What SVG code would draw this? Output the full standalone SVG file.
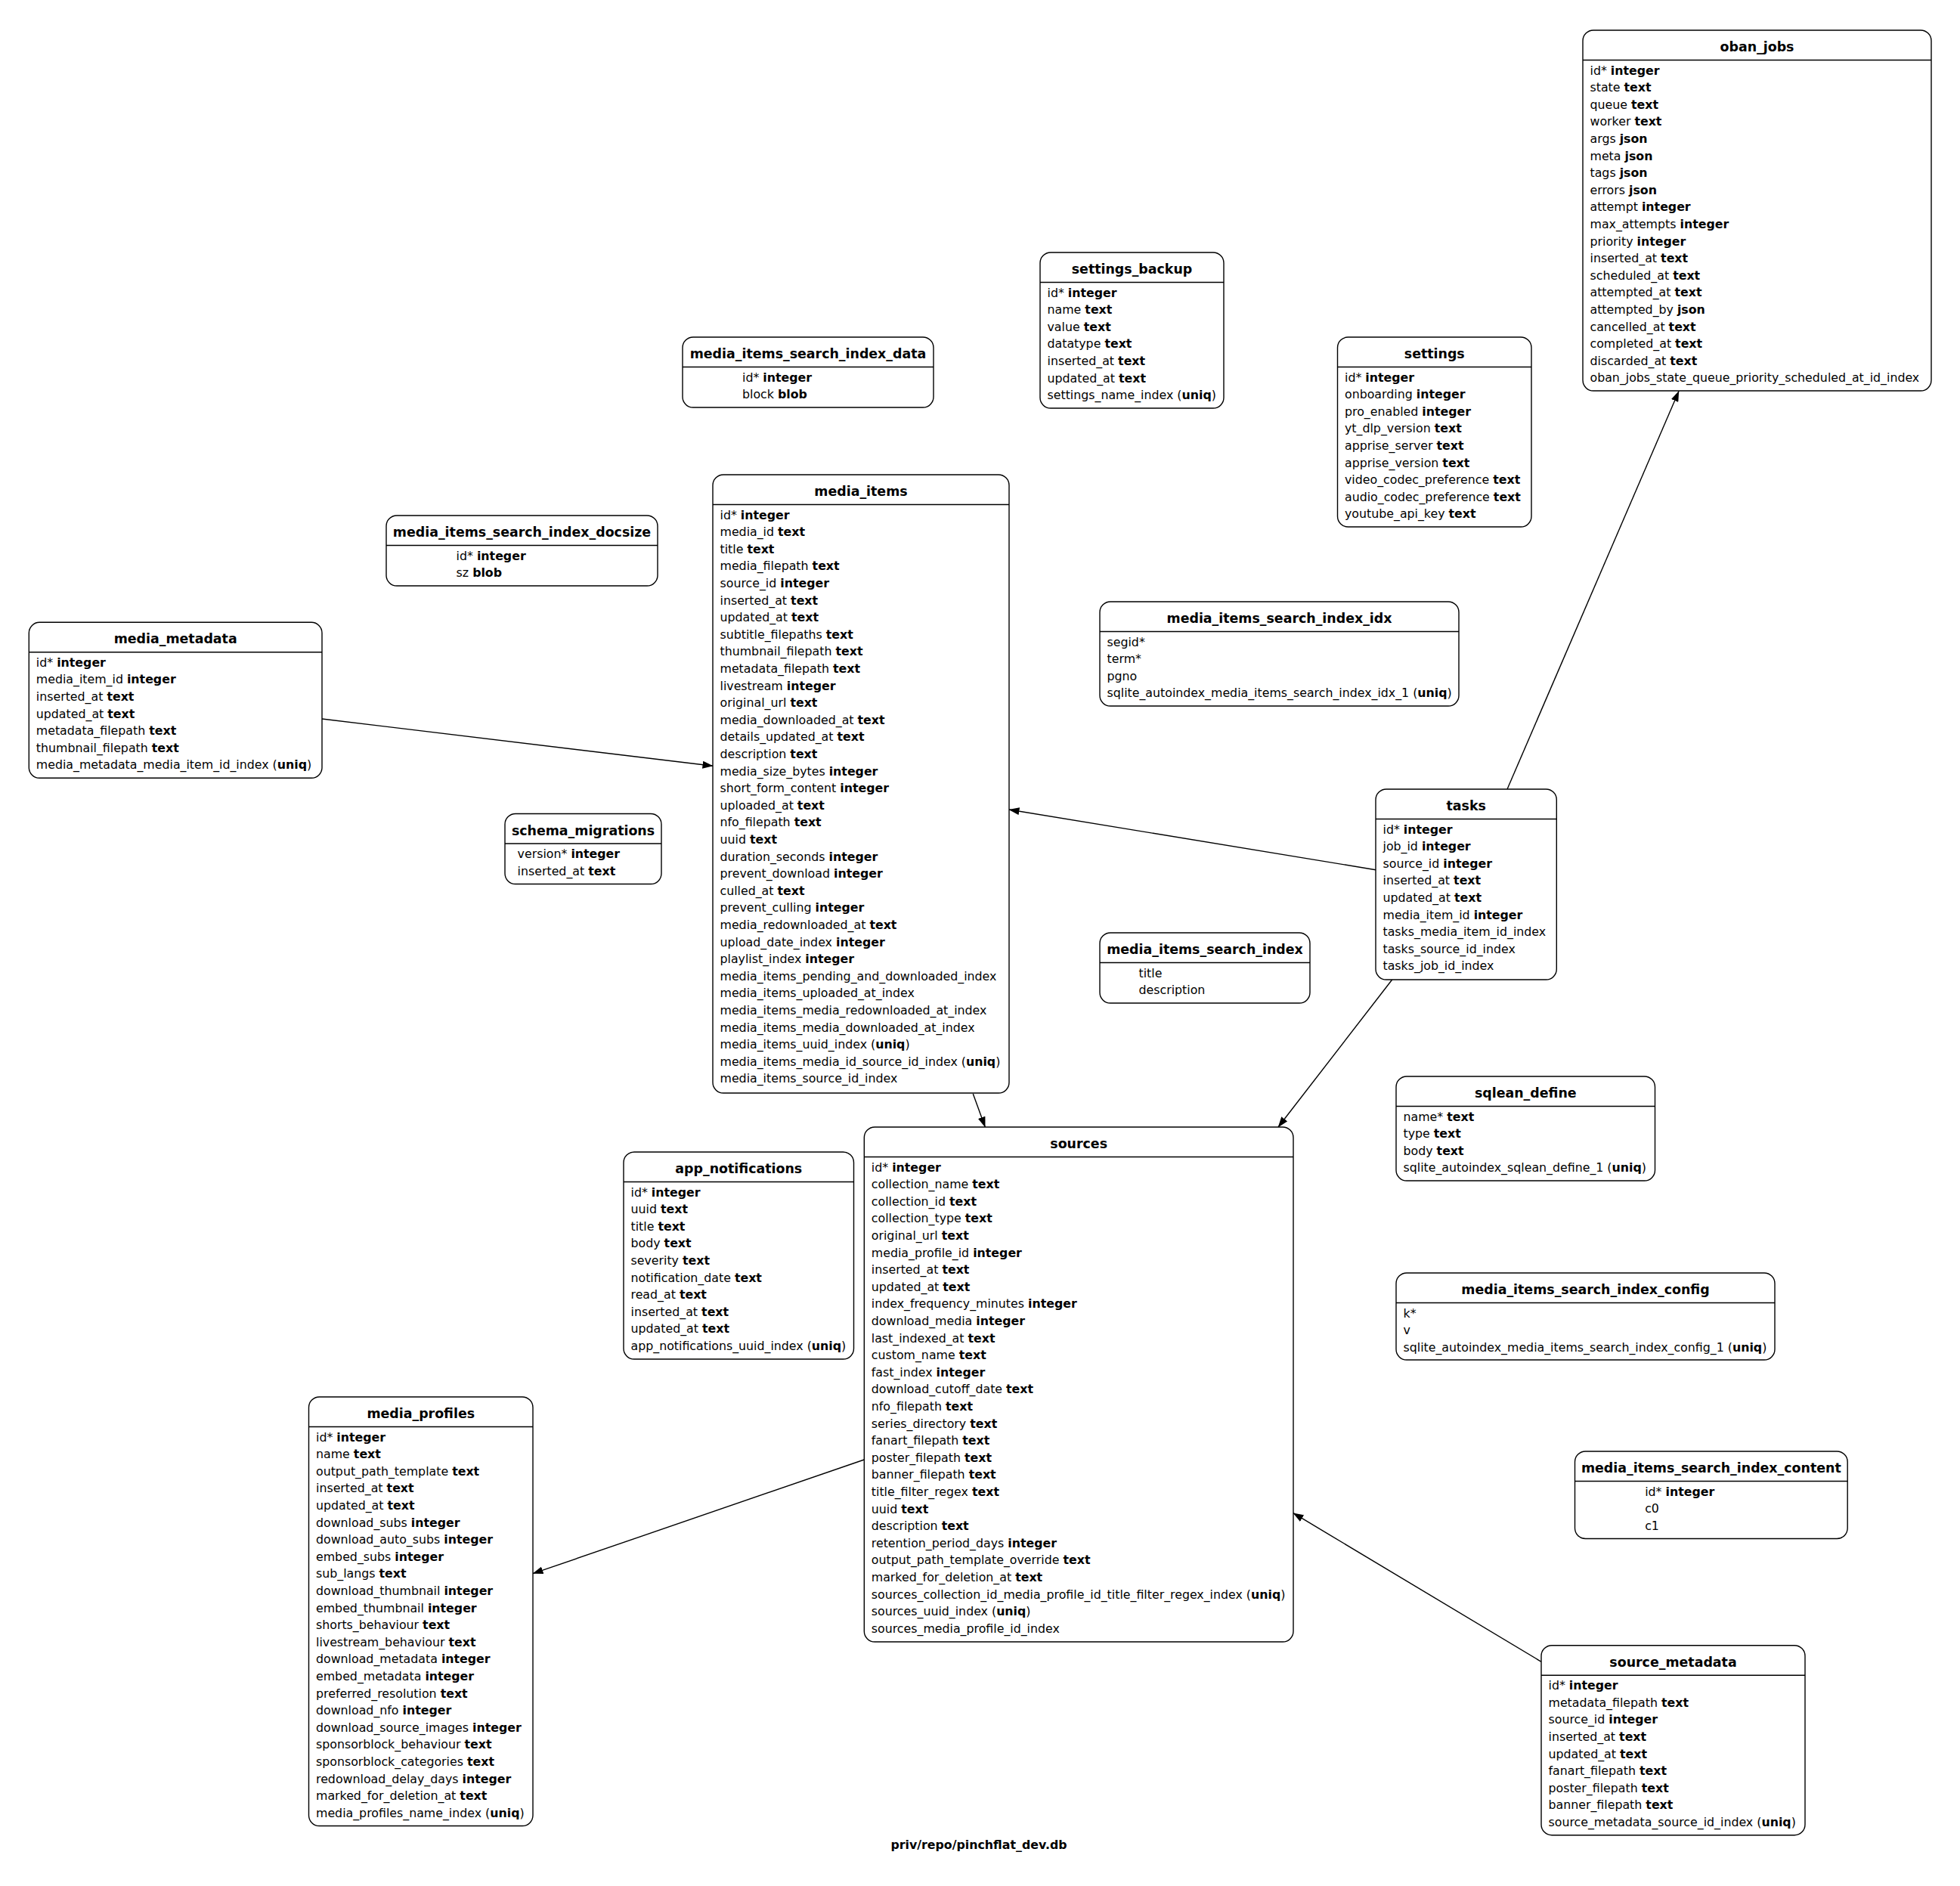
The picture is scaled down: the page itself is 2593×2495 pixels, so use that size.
<svg xmlns="http://www.w3.org/2000/svg" width="2593" height="2495" viewBox="0 0 2593 2495">
<style>
.box{fill:#fff;stroke:#000;stroke-width:1.4}
.sep{stroke:#000;stroke-width:1.4}
text{font-family:"DejaVu Sans","Liberation Sans",sans-serif;font-size:15.8px;fill:#000}
.hd{font-weight:bold;text-anchor:middle;font-size:17.4px}
.ttl{font-weight:bold;text-anchor:middle}
.b{font-weight:bold}
.edge{stroke:#000;stroke-width:1.4;fill:none;marker-end:url(#arr)}
</style>
<defs>
<marker id="arr" markerUnits="userSpaceOnUse" markerWidth="14" markerHeight="10" refX="13.5" refY="5" orient="auto"><path d="M0,0 L14,5 L0,10 Z" fill="#000"/></marker>
</defs>
<rect width="2593" height="2495" fill="#fff"/>

<g id="connectors">
<path class="edge" d="M426,951 L943,1013.3"/>
<path class="edge" d="M1820,1150.7 L1335,1071"/>
<path class="edge" d="M1994,1044 L2221,517.5"/>
<path class="edge" d="M1841.7,1296 L1691,1491"/>
<path class="edge" d="M1287.3,1447 L1303.3,1491"/>
<path class="edge" d="M1143.3,1931 L705,2081.7"/>
<path class="edge" d="M2039,2198.3 L1711,2001.7"/>
</g>

<g id="oban_jobs" transform="translate(2094,40)">
<rect class="box" width="461" height="477" rx="14"/><line class="sep" x1="0" y1="39.5" x2="461" y2="39.5"/>
<text class="hd" x="230.5" y="28">oban_jobs</text>
<text x="9.5" y="58.5">id* <tspan class="b">integer</tspan></text>
<text x="9.5" y="81.1">state <tspan class="b">text</tspan></text>
<text x="9.5" y="103.7">queue <tspan class="b">text</tspan></text>
<text x="9.5" y="126.3">worker <tspan class="b">text</tspan></text>
<text x="9.5" y="148.9">args <tspan class="b">json</tspan></text>
<text x="9.5" y="171.5">meta <tspan class="b">json</tspan></text>
<text x="9.5" y="194.1">tags <tspan class="b">json</tspan></text>
<text x="9.5" y="216.7">errors <tspan class="b">json</tspan></text>
<text x="9.5" y="239.3">attempt <tspan class="b">integer</tspan></text>
<text x="9.5" y="261.9">max_attempts <tspan class="b">integer</tspan></text>
<text x="9.5" y="284.5">priority <tspan class="b">integer</tspan></text>
<text x="9.5" y="307.1">inserted_at <tspan class="b">text</tspan></text>
<text x="9.5" y="329.7">scheduled_at <tspan class="b">text</tspan></text>
<text x="9.5" y="352.3">attempted_at <tspan class="b">text</tspan></text>
<text x="9.5" y="374.9">attempted_by <tspan class="b">json</tspan></text>
<text x="9.5" y="397.5">cancelled_at <tspan class="b">text</tspan></text>
<text x="9.5" y="420.1">completed_at <tspan class="b">text</tspan></text>
<text x="9.5" y="442.7">discarded_at <tspan class="b">text</tspan></text>
<text x="9.5" y="465.3">oban_jobs_state_queue_priority_scheduled_at_id_index</text>
</g>

<g id="settings_backup" transform="translate(1376,334)">
<rect class="box" width="243" height="206" rx="14"/><line class="sep" x1="0" y1="39.5" x2="243" y2="39.5"/>
<text class="hd" x="121.5" y="28">settings_backup</text>
<text x="9.5" y="58.5">id* <tspan class="b">integer</tspan></text>
<text x="9.5" y="81.1">name <tspan class="b">text</tspan></text>
<text x="9.5" y="103.7">value <tspan class="b">text</tspan></text>
<text x="9.5" y="126.3">datatype <tspan class="b">text</tspan></text>
<text x="9.5" y="148.9">inserted_at <tspan class="b">text</tspan></text>
<text x="9.5" y="171.5">updated_at <tspan class="b">text</tspan></text>
<text x="9.5" y="194.1">settings_name_index (<tspan class="b">uniq</tspan>)</text>
</g>

<g id="media_items_search_index_data" transform="translate(903,446)">
<rect class="box" width="332" height="93" rx="14"/><line class="sep" x1="0" y1="39.5" x2="332" y2="39.5"/>
<text class="hd" x="166" y="28">media_items_search_index_data</text>
<text x="79" y="58.5">id* <tspan class="b">integer</tspan></text>
<text x="79" y="81.1">block <tspan class="b">blob</tspan></text>
</g>

<g id="settings" transform="translate(1769.5,446)">
<rect class="box" width="256.5" height="251" rx="14"/><line class="sep" x1="0" y1="39.5" x2="256.5" y2="39.5"/>
<text class="hd" x="128.25" y="28">settings</text>
<text x="9.5" y="58.5">id* <tspan class="b">integer</tspan></text>
<text x="9.5" y="81.1">onboarding <tspan class="b">integer</tspan></text>
<text x="9.5" y="103.7">pro_enabled <tspan class="b">integer</tspan></text>
<text x="9.5" y="126.3">yt_dlp_version <tspan class="b">text</tspan></text>
<text x="9.5" y="148.9">apprise_server <tspan class="b">text</tspan></text>
<text x="9.5" y="171.5">apprise_version <tspan class="b">text</tspan></text>
<text x="9.5" y="194.1">video_codec_preference <tspan class="b">text</tspan></text>
<text x="9.5" y="216.7">audio_codec_preference <tspan class="b">text</tspan></text>
<text x="9.5" y="239.3">youtube_api_key <tspan class="b">text</tspan></text>
</g>

<g id="media_items" transform="translate(943,628)">
<rect class="box" width="392" height="818" rx="14"/><line class="sep" x1="0" y1="39.5" x2="392" y2="39.5"/>
<text class="hd" x="196" y="28">media_items</text>
<text x="9.5" y="58.5">id* <tspan class="b">integer</tspan></text>
<text x="9.5" y="81.1">media_id <tspan class="b">text</tspan></text>
<text x="9.5" y="103.7">title <tspan class="b">text</tspan></text>
<text x="9.5" y="126.3">media_filepath <tspan class="b">text</tspan></text>
<text x="9.5" y="148.9">source_id <tspan class="b">integer</tspan></text>
<text x="9.5" y="171.5">inserted_at <tspan class="b">text</tspan></text>
<text x="9.5" y="194.1">updated_at <tspan class="b">text</tspan></text>
<text x="9.5" y="216.7">subtitle_filepaths <tspan class="b">text</tspan></text>
<text x="9.5" y="239.3">thumbnail_filepath <tspan class="b">text</tspan></text>
<text x="9.5" y="261.9">metadata_filepath <tspan class="b">text</tspan></text>
<text x="9.5" y="284.5">livestream <tspan class="b">integer</tspan></text>
<text x="9.5" y="307.1">original_url <tspan class="b">text</tspan></text>
<text x="9.5" y="329.7">media_downloaded_at <tspan class="b">text</tspan></text>
<text x="9.5" y="352.3">details_updated_at <tspan class="b">text</tspan></text>
<text x="9.5" y="374.9">description <tspan class="b">text</tspan></text>
<text x="9.5" y="397.5">media_size_bytes <tspan class="b">integer</tspan></text>
<text x="9.5" y="420.1">short_form_content <tspan class="b">integer</tspan></text>
<text x="9.5" y="442.7">uploaded_at <tspan class="b">text</tspan></text>
<text x="9.5" y="465.3">nfo_filepath <tspan class="b">text</tspan></text>
<text x="9.5" y="487.9">uuid <tspan class="b">text</tspan></text>
<text x="9.5" y="510.5">duration_seconds <tspan class="b">integer</tspan></text>
<text x="9.5" y="533.1">prevent_download <tspan class="b">integer</tspan></text>
<text x="9.5" y="555.7">culled_at <tspan class="b">text</tspan></text>
<text x="9.5" y="578.3">prevent_culling <tspan class="b">integer</tspan></text>
<text x="9.5" y="600.9">media_redownloaded_at <tspan class="b">text</tspan></text>
<text x="9.5" y="623.5">upload_date_index <tspan class="b">integer</tspan></text>
<text x="9.5" y="646.1">playlist_index <tspan class="b">integer</tspan></text>
<text x="9.5" y="668.7">media_items_pending_and_downloaded_index</text>
<text x="9.5" y="691.3">media_items_uploaded_at_index</text>
<text x="9.5" y="713.9">media_items_media_redownloaded_at_index</text>
<text x="9.5" y="736.5">media_items_media_downloaded_at_index</text>
<text x="9.5" y="759.1">media_items_uuid_index (<tspan class="b">uniq</tspan>)</text>
<text x="9.5" y="781.7">media_items_media_id_source_id_index (<tspan class="b">uniq</tspan>)</text>
<text x="9.5" y="804.3">media_items_source_id_index</text>
</g>

<g id="media_items_search_index_docsize" transform="translate(511,682)">
<rect class="box" width="359" height="93" rx="14"/><line class="sep" x1="0" y1="39.5" x2="359" y2="39.5"/>
<text class="hd" x="179.5" y="28">media_items_search_index_docsize</text>
<text x="92.6" y="58.5">id* <tspan class="b">integer</tspan></text>
<text x="92.6" y="81.1">sz <tspan class="b">blob</tspan></text>
</g>

<g id="media_metadata" transform="translate(38.3,823.3)">
<rect class="box" width="387.7" height="206" rx="14"/><line class="sep" x1="0" y1="39.5" x2="387.7" y2="39.5"/>
<text class="hd" x="193.85" y="28">media_metadata</text>
<text x="9.5" y="58.5">id* <tspan class="b">integer</tspan></text>
<text x="9.5" y="81.1">media_item_id <tspan class="b">integer</tspan></text>
<text x="9.5" y="103.7">inserted_at <tspan class="b">text</tspan></text>
<text x="9.5" y="126.3">updated_at <tspan class="b">text</tspan></text>
<text x="9.5" y="148.9">metadata_filepath <tspan class="b">text</tspan></text>
<text x="9.5" y="171.5">thumbnail_filepath <tspan class="b">text</tspan></text>
<text x="9.5" y="194.1">media_metadata_media_item_id_index (<tspan class="b">uniq</tspan>)</text>
</g>

<g id="media_items_search_index_idx" transform="translate(1455,796)">
<rect class="box" width="475" height="138" rx="14"/><line class="sep" x1="0" y1="39.5" x2="475" y2="39.5"/>
<text class="hd" x="237.5" y="28">media_items_search_index_idx</text>
<text x="9.5" y="58.5">segid*</text>
<text x="9.5" y="81.1">term*</text>
<text x="9.5" y="103.7">pgno</text>
<text x="9.5" y="126.3">sqlite_autoindex_media_items_search_index_idx_1 (<tspan class="b">uniq</tspan>)</text>
</g>

<g id="schema_migrations" transform="translate(668,1076.5)">
<rect class="box" width="207" height="93" rx="14"/><line class="sep" x1="0" y1="39.5" x2="207" y2="39.5"/>
<text class="hd" x="103.5" y="28">schema_migrations</text>
<text x="16.6" y="58.5">version* <tspan class="b">integer</tspan></text>
<text x="16.6" y="81.1">inserted_at <tspan class="b">text</tspan></text>
</g>

<g id="tasks" transform="translate(1820,1044)">
<rect class="box" width="239.3" height="252" rx="14"/><line class="sep" x1="0" y1="39.5" x2="239.3" y2="39.5"/>
<text class="hd" x="119.65" y="28">tasks</text>
<text x="9.5" y="58.5">id* <tspan class="b">integer</tspan></text>
<text x="9.5" y="81.1">job_id <tspan class="b">integer</tspan></text>
<text x="9.5" y="103.7">source_id <tspan class="b">integer</tspan></text>
<text x="9.5" y="126.3">inserted_at <tspan class="b">text</tspan></text>
<text x="9.5" y="148.9">updated_at <tspan class="b">text</tspan></text>
<text x="9.5" y="171.5">media_item_id <tspan class="b">integer</tspan></text>
<text x="9.5" y="194.1">tasks_media_item_id_index</text>
<text x="9.5" y="216.7">tasks_source_id_index</text>
<text x="9.5" y="239.3">tasks_job_id_index</text>
</g>

<g id="media_items_search_index" transform="translate(1455,1234)">
<rect class="box" width="278" height="93" rx="14"/><line class="sep" x1="0" y1="39.5" x2="278" y2="39.5"/>
<text class="hd" x="139" y="28">media_items_search_index</text>
<text x="51.5" y="58.5">title</text>
<text x="51.5" y="81.1">description</text>
</g>

<g id="sqlean_define" transform="translate(1847,1424)">
<rect class="box" width="342.5" height="138" rx="14"/><line class="sep" x1="0" y1="39.5" x2="342.5" y2="39.5"/>
<text class="hd" x="171.25" y="28">sqlean_define</text>
<text x="9.5" y="58.5">name* <tspan class="b">text</tspan></text>
<text x="9.5" y="81.1">type <tspan class="b">text</tspan></text>
<text x="9.5" y="103.7">body <tspan class="b">text</tspan></text>
<text x="9.5" y="126.3">sqlite_autoindex_sqlean_define_1 (<tspan class="b">uniq</tspan>)</text>
</g>

<g id="app_notifications" transform="translate(825,1524)">
<rect class="box" width="304.5" height="274" rx="14"/><line class="sep" x1="0" y1="39.5" x2="304.5" y2="39.5"/>
<text class="hd" x="152.25" y="28">app_notifications</text>
<text x="9.5" y="58.5">id* <tspan class="b">integer</tspan></text>
<text x="9.5" y="81.1">uuid <tspan class="b">text</tspan></text>
<text x="9.5" y="103.7">title <tspan class="b">text</tspan></text>
<text x="9.5" y="126.3">body <tspan class="b">text</tspan></text>
<text x="9.5" y="148.9">severity <tspan class="b">text</tspan></text>
<text x="9.5" y="171.5">notification_date <tspan class="b">text</tspan></text>
<text x="9.5" y="194.1">read_at <tspan class="b">text</tspan></text>
<text x="9.5" y="216.7">inserted_at <tspan class="b">text</tspan></text>
<text x="9.5" y="239.3">updated_at <tspan class="b">text</tspan></text>
<text x="9.5" y="261.9">app_notifications_uuid_index (<tspan class="b">uniq</tspan>)</text>
</g>

<g id="sources" transform="translate(1143.3,1491)">
<rect class="box" width="567.7" height="681" rx="14"/><line class="sep" x1="0" y1="39.5" x2="567.7" y2="39.5"/>
<text class="hd" x="283.85" y="28">sources</text>
<text x="9.5" y="58.5">id* <tspan class="b">integer</tspan></text>
<text x="9.5" y="81.1">collection_name <tspan class="b">text</tspan></text>
<text x="9.5" y="103.7">collection_id <tspan class="b">text</tspan></text>
<text x="9.5" y="126.3">collection_type <tspan class="b">text</tspan></text>
<text x="9.5" y="148.9">original_url <tspan class="b">text</tspan></text>
<text x="9.5" y="171.5">media_profile_id <tspan class="b">integer</tspan></text>
<text x="9.5" y="194.1">inserted_at <tspan class="b">text</tspan></text>
<text x="9.5" y="216.7">updated_at <tspan class="b">text</tspan></text>
<text x="9.5" y="239.3">index_frequency_minutes <tspan class="b">integer</tspan></text>
<text x="9.5" y="261.9">download_media <tspan class="b">integer</tspan></text>
<text x="9.5" y="284.5">last_indexed_at <tspan class="b">text</tspan></text>
<text x="9.5" y="307.1">custom_name <tspan class="b">text</tspan></text>
<text x="9.5" y="329.7">fast_index <tspan class="b">integer</tspan></text>
<text x="9.5" y="352.3">download_cutoff_date <tspan class="b">text</tspan></text>
<text x="9.5" y="374.9">nfo_filepath <tspan class="b">text</tspan></text>
<text x="9.5" y="397.5">series_directory <tspan class="b">text</tspan></text>
<text x="9.5" y="420.1">fanart_filepath <tspan class="b">text</tspan></text>
<text x="9.5" y="442.7">poster_filepath <tspan class="b">text</tspan></text>
<text x="9.5" y="465.3">banner_filepath <tspan class="b">text</tspan></text>
<text x="9.5" y="487.9">title_filter_regex <tspan class="b">text</tspan></text>
<text x="9.5" y="510.5">uuid <tspan class="b">text</tspan></text>
<text x="9.5" y="533.1">description <tspan class="b">text</tspan></text>
<text x="9.5" y="555.7">retention_period_days <tspan class="b">integer</tspan></text>
<text x="9.5" y="578.3">output_path_template_override <tspan class="b">text</tspan></text>
<text x="9.5" y="600.9">marked_for_deletion_at <tspan class="b">text</tspan></text>
<text x="9.5" y="623.5">sources_collection_id_media_profile_id_title_filter_regex_index (<tspan class="b">uniq</tspan>)</text>
<text x="9.5" y="646.1">sources_uuid_index (<tspan class="b">uniq</tspan>)</text>
<text x="9.5" y="668.7">sources_media_profile_id_index</text>
</g>

<g id="media_items_search_index_config" transform="translate(1847,1684)">
<rect class="box" width="501" height="115" rx="14"/><line class="sep" x1="0" y1="39.5" x2="501" y2="39.5"/>
<text class="hd" x="250.5" y="28">media_items_search_index_config</text>
<text x="9.5" y="58.5">k*</text>
<text x="9.5" y="81.1">v</text>
<text x="9.5" y="103.7">sqlite_autoindex_media_items_search_index_config_1 (<tspan class="b">uniq</tspan>)</text>
</g>

<g id="media_items_search_index_content" transform="translate(2083.5,1920)">
<rect class="box" width="360.7" height="115.5" rx="14"/><line class="sep" x1="0" y1="39.5" x2="360.7" y2="39.5"/>
<text class="hd" x="180.35" y="28">media_items_search_index_content</text>
<text x="92.7" y="58.5">id* <tspan class="b">integer</tspan></text>
<text x="92.7" y="81.1">c0</text>
<text x="92.7" y="103.7">c1</text>
</g>

<g id="media_profiles" transform="translate(408.5,1848)">
<rect class="box" width="296.5" height="567.5" rx="14"/><line class="sep" x1="0" y1="39.5" x2="296.5" y2="39.5"/>
<text class="hd" x="148.25" y="28">media_profiles</text>
<text x="9.5" y="58.5">id* <tspan class="b">integer</tspan></text>
<text x="9.5" y="81.1">name <tspan class="b">text</tspan></text>
<text x="9.5" y="103.7">output_path_template <tspan class="b">text</tspan></text>
<text x="9.5" y="126.3">inserted_at <tspan class="b">text</tspan></text>
<text x="9.5" y="148.9">updated_at <tspan class="b">text</tspan></text>
<text x="9.5" y="171.5">download_subs <tspan class="b">integer</tspan></text>
<text x="9.5" y="194.1">download_auto_subs <tspan class="b">integer</tspan></text>
<text x="9.5" y="216.7">embed_subs <tspan class="b">integer</tspan></text>
<text x="9.5" y="239.3">sub_langs <tspan class="b">text</tspan></text>
<text x="9.5" y="261.9">download_thumbnail <tspan class="b">integer</tspan></text>
<text x="9.5" y="284.5">embed_thumbnail <tspan class="b">integer</tspan></text>
<text x="9.5" y="307.1">shorts_behaviour <tspan class="b">text</tspan></text>
<text x="9.5" y="329.7">livestream_behaviour <tspan class="b">text</tspan></text>
<text x="9.5" y="352.3">download_metadata <tspan class="b">integer</tspan></text>
<text x="9.5" y="374.9">embed_metadata <tspan class="b">integer</tspan></text>
<text x="9.5" y="397.5">preferred_resolution <tspan class="b">text</tspan></text>
<text x="9.5" y="420.1">download_nfo <tspan class="b">integer</tspan></text>
<text x="9.5" y="442.7">download_source_images <tspan class="b">integer</tspan></text>
<text x="9.5" y="465.3">sponsorblock_behaviour <tspan class="b">text</tspan></text>
<text x="9.5" y="487.9">sponsorblock_categories <tspan class="b">text</tspan></text>
<text x="9.5" y="510.5">redownload_delay_days <tspan class="b">integer</tspan></text>
<text x="9.5" y="533.1">marked_for_deletion_at <tspan class="b">text</tspan></text>
<text x="9.5" y="555.7">media_profiles_name_index (<tspan class="b">uniq</tspan>)</text>
</g>

<g id="source_metadata" transform="translate(2039,2176.7)">
<rect class="box" width="349" height="251" rx="14"/><line class="sep" x1="0" y1="39.5" x2="349" y2="39.5"/>
<text class="hd" x="174.5" y="28">source_metadata</text>
<text x="9.5" y="58.5">id* <tspan class="b">integer</tspan></text>
<text x="9.5" y="81.1">metadata_filepath <tspan class="b">text</tspan></text>
<text x="9.5" y="103.7">source_id <tspan class="b">integer</tspan></text>
<text x="9.5" y="126.3">inserted_at <tspan class="b">text</tspan></text>
<text x="9.5" y="148.9">updated_at <tspan class="b">text</tspan></text>
<text x="9.5" y="171.5">fanart_filepath <tspan class="b">text</tspan></text>
<text x="9.5" y="194.1">poster_filepath <tspan class="b">text</tspan></text>
<text x="9.5" y="216.7">banner_filepath <tspan class="b">text</tspan></text>
<text x="9.5" y="239.3">source_metadata_source_id_index (<tspan class="b">uniq</tspan>)</text>
</g>

<text class="ttl" x="1295" y="2446">priv/repo/pinchflat_dev.db</text>
</svg>
